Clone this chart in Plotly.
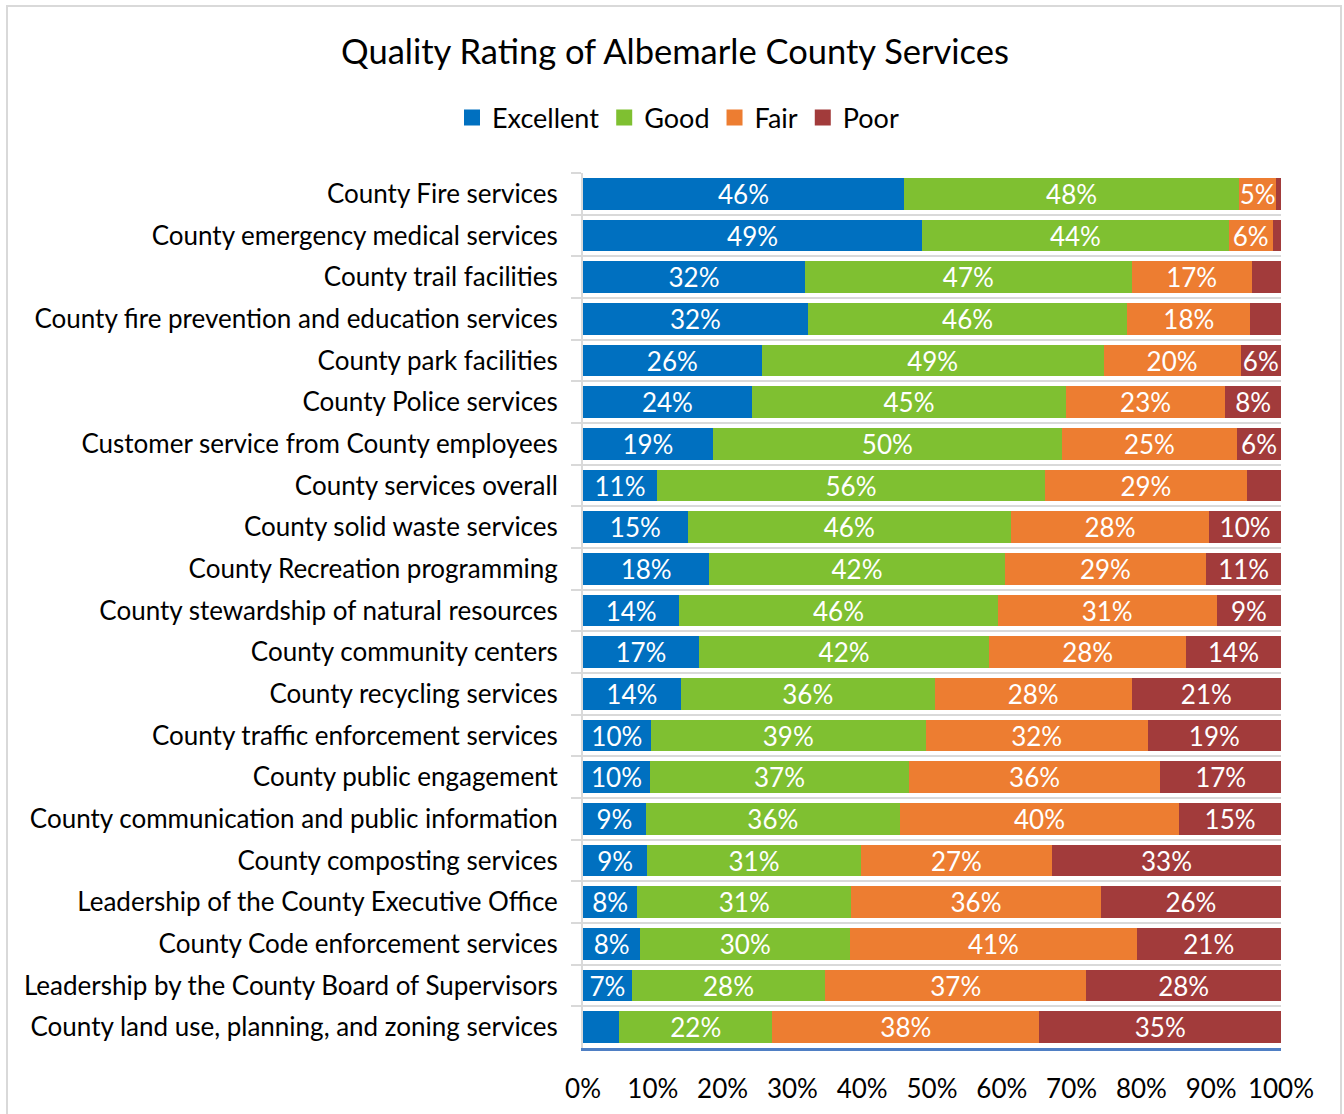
import plotly.graph_objects as go

categories = [
    "County Fire services",
    "County emergency medical services",
    "County trail facilities",
    "County fire prevention and education services",
    "County park facilities",
    "County Police services",
    "Customer service from County employees",
    "County services overall",
    "County solid waste services",
    "County Recreation programming",
    "County stewardship of natural resources",
    "County community centers",
    "County recycling services",
    "County traffic enforcement services",
    "County public engagement",
    "County communication and public information",
    "County composting services",
    "Leadership of the County Executive Office",
    "County Code enforcement services",
    "Leadership by the County Board of Supervisors",
    "County land use, planning, and zoning services",
]

excellent = [46.0, 48.6, 31.8, 32.2, 25.6, 24.2, 18.6, 10.6, 15.0, 18.1, 13.8,
             16.6, 14.0, 9.7, 9.6, 9.0, 9.2, 7.8, 8.2, 7.0, 5.2]
good = [48.0, 43.9, 46.8, 45.8, 49.0, 45.0, 50.0, 55.6, 46.3, 42.3, 45.6,
        41.6, 36.4, 39.4, 37.1, 36.4, 30.6, 30.6, 30.1, 27.7, 21.9]
fair = [5.3, 6.3, 17.2, 17.6, 19.6, 22.8, 25.1, 28.9, 28.4, 28.9, 31.4,
        28.2, 28.2, 31.8, 36.0, 40.0, 27.4, 35.8, 41.0, 37.4, 38.3]
poor = [0.7, 1.2, 4.2, 4.4, 5.8, 8.0, 6.3, 4.9, 10.3, 10.7, 9.2,
        13.6, 21.4, 19.1, 17.3, 14.6, 32.8, 25.8, 20.7, 27.9, 34.6]

series_names = ["Excellent", "Good", "Fair", "Poor"]
series_values = [excellent, good, fair, poor]
colors = ["#0070C0", "#7FC031", "#ED7D31", "#A23B3B"]
x_ticks = [0, 10, 20, 30, 40, 50, 60, 70, 80, 90, 100]
x_tick_labels = [f"{t}%" for t in x_ticks]

FONT = "Lato"
FS = 26
MIN_LABEL = 5.25

fig = go.Figure()
for name, vals, col in zip(series_names, series_values, colors):
    txt = [f"{round(v)}%" if v >= MIN_LABEL else "" for v in vals]
    fig.add_trace(go.Bar(
        name=name, y=categories, x=vals, orientation="h",
        marker=dict(color=col, line=dict(width=0)),
        text=txt, textposition="inside", insidetextanchor="middle",
        textangle=0,
        textfont=dict(color="white", size=FS, family=FONT),
        hoverinfo="skip", showlegend=False,
    ))
# legend entries with larger square swatches
for name, col in zip(series_names, colors):
    fig.add_trace(go.Scatter(
        name=name, x=[None], y=[None], mode="markers",
        marker=dict(symbol="square", size=17, color=col),
        showlegend=True, hoverinfo="skip",
    ))

W, H = 1344, 1114
L, R, T, B = 583, 63, 173, 66
pw, ph = W - L - R, H - T - B

def px_x(x):
    return (x - L) / pw

def px_y(y):
    return (H - B - y) / ph

fig.update_layout(
    barmode="stack",
    bargap=0.24,
    width=W, height=H,
    margin=dict(l=L, r=R, t=T, b=B, autoexpand=False),
    paper_bgcolor="white", plot_bgcolor="white",
    font=dict(family=FONT, size=FS, color="black"),
    title=dict(text="Quality Rating of Albemarle County Services",
               x=675 / W, xref="container", xanchor="center",
               y=1 - 52 / H, yref="container", yanchor="middle",
               font=dict(size=34.5, family=FONT, color="black")),
    legend=dict(orientation="h", x=(678 - L) / pw, xanchor="center",
                y=px_y(118), yanchor="middle",
                font=dict(size=27, family=FONT),
                traceorder="normal", itemwidth=30, tracegroupgap=0,
                bgcolor="rgba(0,0,0,0)"),
    uniformtext=dict(mode="show", minsize=FS),
    showlegend=True,
)

fig.update_xaxes(range=[0, 100], tickvals=x_ticks, ticktext=x_tick_labels,
                 showgrid=False, zeroline=False, automargin=False,
                 showline=True, linecolor="#4F7FC4", linewidth=3,
                 ticks="", ticklabelstandoff=16,
                 tickfont=dict(size=FS, family=FONT, color="black"))
fig.update_yaxes(autorange="reversed", type="category", automargin=False,
                 tickson="boundaries", ticks="outside", ticklen=10,
                 tickcolor="#D9D9D9", tickwidth=2, ticklabelstandoff=18,
                 showgrid=True, gridcolor="#D9D9D9", gridwidth=2,
                 showline=True, linecolor="#D9D9D9", linewidth=2,
                 tickfont=dict(size=FS, family=FONT, color="black"))

fig.add_shape(type="rect", xref="paper", yref="paper",
              x0=px_x(7), x1=px_x(1341), y0=px_y(1140), y1=px_y(6),
              line=dict(color="#D9D9D9", width=2), fillcolor="rgba(0,0,0,0)",
              layer="below")

fig.write_html("out.html", config={"displayModeBar": False},
               post_script="document.body.style.margin='0';")
